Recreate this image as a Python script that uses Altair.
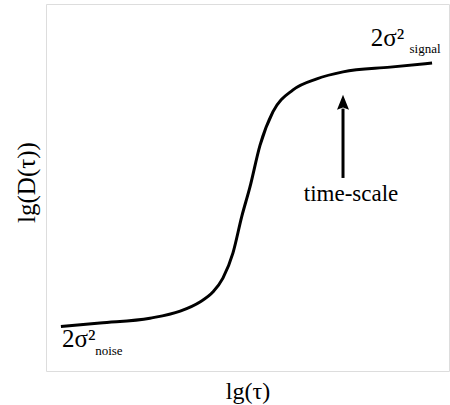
import altair as alt
import pandas as pd

# Curve: lg(tau) vs lg(D(tau)) (arbitrary units 0..10)
curve_x = [0.37, 1.34, 2.58, 3.33, 3.82, 4.14, 4.39, 4.64, 4.86, 5.06, 5.31, 5.63, 6.13, 6.72, 7.37, 8.54, 9.58]
curve_y = [1.21, 1.31, 1.44, 1.63, 1.88, 2.15, 2.53, 3.22, 4.22, 5.01, 6.15, 7.06, 7.66, 7.96, 8.15, 8.28, 8.39]

# Annotation anchors (data units)
arrow_x = [7.37, 7.37]
arrow_y = [5.26, 7.15]
head_x = [7.37]
head_y = [7.32]

lab_text = ["time-scale", "2σ²", "signal", "2σ²", "noise"]
lab_x = [7.57, 8.06, 9.02, 0.40, 1.22]
lab_y = [4.62, 8.86, 8.66, 0.65, 0.43]
lab_size = [23, 25, 13, 25, 13]
lab_align = ["center", "left", "left", "left", "left"]

df_curve = pd.DataFrame({"x": curve_x, "y": curve_y})
df_arrow = pd.DataFrame({"x": arrow_x, "y": arrow_y})
df_head = pd.DataFrame({"x": head_x, "y": head_y})
df_lab = pd.DataFrame({"t": lab_text, "x": lab_x, "y": lab_y})

FONT = "Liberation Serif"
xs = alt.Scale(domain=[0, 10])
ys = alt.Scale(domain=[0, 10])

xenc = alt.X("x:Q", scale=xs, axis=alt.Axis(title="lg(τ)", labels=False, ticks=False,
                                              domain=False, grid=False, titleFont=FONT,
                                              titleFontSize=24, titleFontWeight="normal",
                                              titleColor="black", titlePadding=8))
yenc = alt.Y("y:Q", scale=ys, axis=alt.Axis(title="lg(D(τ))", labels=False, ticks=False,
                                              domain=False, grid=False, titleFont=FONT,
                                              titleFontSize=25, titleFontWeight="normal",
                                              titleColor="black", titlePadding=7, titleY=178))

line = alt.Chart(df_curve).mark_line(color="black", strokeWidth=3, interpolate="monotone").encode(
    x=xenc, y=yenc)

shaft = alt.Chart(df_arrow).mark_line(color="black", strokeWidth=3).encode(
    x=alt.X("x:Q", scale=xs), y=alt.Y("y:Q", scale=ys))

head = alt.Chart(df_head).mark_point(
    shape="M0,-1L0.8,1L0,0.7L-0.8,1Z", size=225, filled=True, color="black", opacity=1
).encode(x=alt.X("x:Q", scale=xs), y=alt.Y("y:Q", scale=ys))

texts = []
for i in range(len(lab_text)):
    sub = df_lab.iloc[[i]]
    texts.append(
        alt.Chart(sub).mark_text(font=FONT, fontSize=lab_size[i], align=lab_align[i],
                                 baseline="alphabetic", color="black").encode(
            x=alt.X("x:Q", scale=xs), y=alt.Y("y:Q", scale=ys), text="t:N")
    )

chart = alt.layer(line, shaft, head, *texts).properties(
    width=403, height=367,
    autosize=alt.AutoSizeParams(type="none"),
    padding={"left": 46, "top": 4, "right": 1, "bottom": 34},
).configure_view(stroke="#555555", strokeWidth=1.2).configure(background="white")

chart.save("out.html", embed_options={"renderer": "svg", "actions": False})
